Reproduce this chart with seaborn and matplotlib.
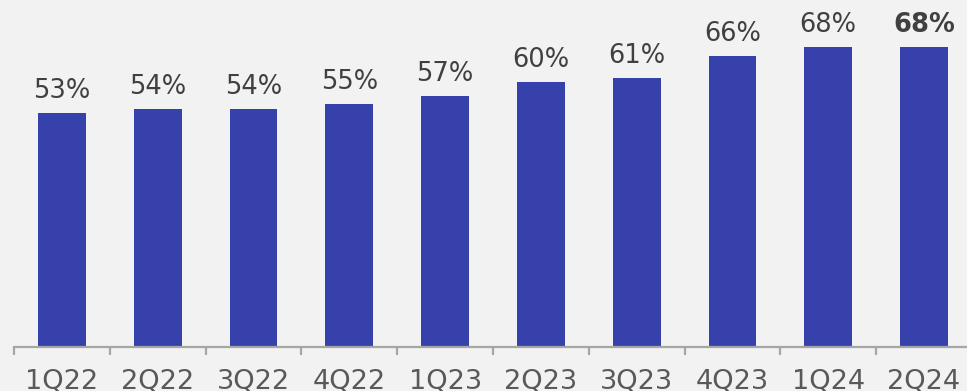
import pandas as pd
import seaborn as sns
import matplotlib.pyplot as plt

# data
quarters = ["1Q22", "2Q22", "3Q22", "4Q22", "1Q23", "2Q23", "3Q23", "4Q23", "1Q24", "2Q24"]
shares = [53, 54, 54, 55, 57, 60, 61, 66, 68, 68]

df = pd.DataFrame({"quarter": quarters, "share": shares})

bg = "#f2f2f2"
bar_color = "#3741ab"

sns.set_theme(style="white")
plt.rcParams["font.family"] = ["DejaVu Sans"]

fig = plt.figure(figsize=(9.67, 3.91), dpi=100, facecolor=bg)
ax = fig.add_axes([14.1 / 967, 44 / 391, 957.8 / 967, 0.79])
ax.set_facecolor(bg)

sns.barplot(data=df, x="quarter", y="share", color=bar_color, width=0.5,
            saturation=1, linewidth=0, ax=ax)

ax.set_xlim(-0.5, len(quarters) - 0.5)
ax.set_ylim(0, 0.79 * 391 / 4.41)

# value labels, last one bold
for i, v in enumerate(shares):
    ax.annotate(f"{v}%", (i, v), xytext=(0, 6.5), textcoords="offset points",
                ha="center", va="bottom", fontsize=18.5, color="#404040",
                fontweight="bold" if i == len(shares) - 1 else "normal")

for s in ["top", "right", "left"]:
    ax.spines[s].set_visible(False)
ax.spines["bottom"].set_color("#a6a6a6")
ax.spines["bottom"].set_linewidth(1.6)

ax.set_yticks([])
ax.set_xlabel("")
ax.set_ylabel("")
ax.set_xticks([i + 0.5 for i in range(-1, len(quarters))], minor=True)
ax.tick_params(axis="x", which="minor", bottom=True, length=6, width=1.6,
               color="#a6a6a6", direction="out")
ax.tick_params(axis="x", which="major", length=0, pad=15.5, labelsize=19.5,
               labelcolor="#595959")

fig.savefig("out.png", dpi=100, facecolor=bg)
